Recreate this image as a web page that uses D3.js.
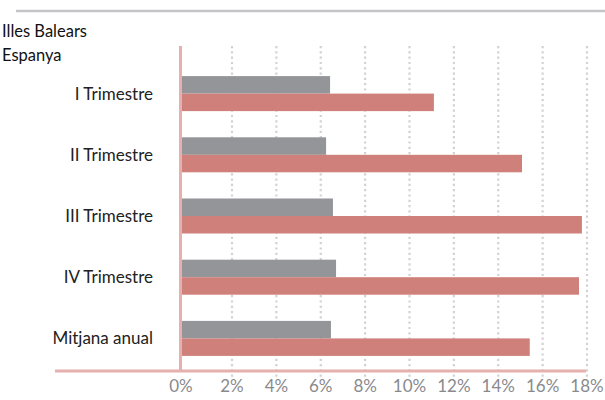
<!DOCTYPE html>
<html><head><meta charset="utf-8">
<script src="https://cdn.jsdelivr.net/npm/d3@7"></script>
<style>body{margin:0;background:#fff}svg{display:block}text{font-family:Lato,"Open Sans",sans-serif}</style>
</head><body><svg id="c" width="605" height="400"></svg>
<script>
const categories = ["I Trimestre","II Trimestre","III Trimestre","IV Trimestre","Mitjana anual"];
const seriesNames = ["Illes Balears","Espanya"];
const illesBalears = [6.42, 6.24, 6.55, 6.69, 6.46];
const espanya = [11.1, 15.07, 17.77, 17.64, 15.42];
const tickValues = [0,2,4,6,8,10,12,14,16,18];
const tickLabels = ["0%","2%","4%","6%","8%","10%","12%","14%","16%","18%"];
const colors = ["#939598","#d0807b"];

const svg = d3.select("#c");
const axisX = 181;
const x = d3.scaleLinear().domain([0,2,18]).range([181,232,587]);
const y = d3.scaleBand().domain(categories).range([63,369]).paddingInner(0.428).paddingOuter(0.214);
const sub = d3.scaleBand().domain(seriesNames).range([0,y.bandwidth()]);

// top rule
svg.append("line").attr("x1",16).attr("x2",605).attr("y1",11).attr("y2",11)
  .attr("stroke","#c4c4c8").attr("stroke-width",2.5);

// gridlines
svg.append("g").selectAll("line").data(tickValues.slice(1)).join("line")
  .attr("x1",d=>x(d)).attr("x2",d=>x(d)).attr("y1",46).attr("y2",379)
  .attr("stroke","#d2d2d2").attr("stroke-width",2.2).attr("stroke-dasharray","2.2,3.1");

// bars
const data = [illesBalears, espanya];
data.forEach((vals,si)=>{
  svg.append("g").selectAll("rect").data(categories).join("rect")
    .attr("x",axisX).attr("y",(c)=>y(c)+sub(seriesNames[si]))
    .attr("width",(c,i)=>x(vals[i])-axisX).attr("height",sub.bandwidth())
    .attr("fill",colors[si]);
});

// axes lines
svg.append("line").attr("x1",55).attr("x2",586).attr("y1",371).attr("y2",371)
  .attr("stroke","#e5b0ad").attr("stroke-width",3);
svg.append("line").attr("x1",180.5).attr("x2",180.5).attr("y1",46).attr("y2",372)
  .attr("stroke","#e5b0ad").attr("stroke-width",3);

// tick labels
svg.append("g").selectAll("text").data(tickValues).join("text")
  .attr("x",d=>x(d)).attr("y",392).attr("text-anchor","middle")
  .attr("font-size",17).attr("fill","#8a8a8e").text((d,i)=>tickLabels[i]);

// category labels
svg.append("g").selectAll("text").data(categories).join("text")
  .attr("x",153).attr("y",c=>y(c)+y.bandwidth()/2).attr("dy","0.35em")
  .attr("text-anchor","end").attr("font-size",17).attr("fill","#222").text(c=>c);

// legend (text only)
svg.append("g").selectAll("text").data(seriesNames).join("text")
  .attr("x",2).attr("y",(d,i)=>37+i*24).attr("font-size",16.5).attr("fill","#111").text(d=>d);
</script></body></html>
